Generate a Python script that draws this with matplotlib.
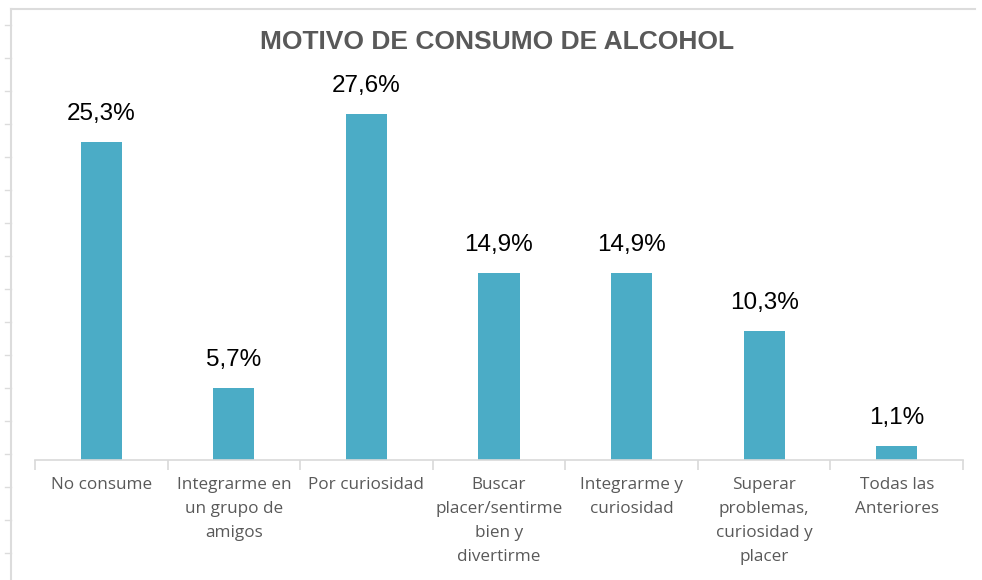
import matplotlib.pyplot as plt
from matplotlib.lines import Line2D

categories = ['No consume', 'Integrarme en\nun grupo de\namigos', 'Por curiosidad',
              'Buscar\nplacer/sentirme\nbien y\ndivertirme', 'Integrarme y\ncuriosidad',
              'Superar\nproblemas,\ncuriosidad y\nplacer', 'Todas las\nAnteriores']
values = [25.3, 5.7, 27.6, 14.9, 14.9, 10.3, 1.1]
labels = ['25,3%', '5,7%', '27,6%', '14,9%', '14,9%', '10,3%', '1,1%']

W, H = 982, 580
fig = plt.figure(figsize=(W / 100, H / 100), dpi=100)
ax = fig.add_axes([35 / W, 1 - 460 / H, 928 / W, 376.5 / H])

x = list(range(len(categories)))
ax.bar(x, values, width=0.31, color='#4BACC6')
ax.set_xlim(-0.5, len(categories) - 0.5)
ax.set_ylim(0, 30)

for xi, v, lab in zip(x, values, labels):
    ax.annotate(lab, (xi, v), xytext=(0, 17), textcoords='offset pixels',
                ha='center', va='bottom', fontsize=17.5,
                family='Liberation Sans', color='black', clip_on=False)

for s in ['left', 'right', 'top']:
    ax.spines[s].set_visible(False)
ax.spines['bottom'].set_color('#d9d9d9')
ax.spines['bottom'].set_linewidth(1.2)
ax.set_yticks([])
ax.set_xticks(x)
ax.set_xticklabels(categories, fontsize=12.3, family='Open Sans', color='#595959',
                   linespacing=1.68, va='top')
ax.tick_params(axis='x', which='major', length=0, pad=12)
ax.set_xticks([i - 0.5 for i in range(len(categories) + 1)], minor=True)
ax.tick_params(axis='x', which='minor', length=7, color='#d9d9d9', width=1.2)

fig.text(497 / W, 1 - 42 / H, 'MOTIVO DE CONSUMO DE ALCOHOL', ha='center', va='center',
         fontsize=19, fontweight='bold', family='Liberation Sans', color='#595959')

# surrounding sheet frame
grey = '#dcdcdc'
fig.add_artist(Line2D([11 / W, 11 / W], [0, 1 - 9 / H], color=grey, lw=1.5))
fig.add_artist(Line2D([11 / W, 975 / W], [1 - 9 / H, 1 - 9 / H], color=grey, lw=1.5))
yt = 25
while yt < H:
    fig.add_artist(Line2D([5 / W, 11 / W], [1 - yt / H, 1 - yt / H], color=grey, lw=1))
    yt += 33

fig.savefig('out.png', dpi=100)
